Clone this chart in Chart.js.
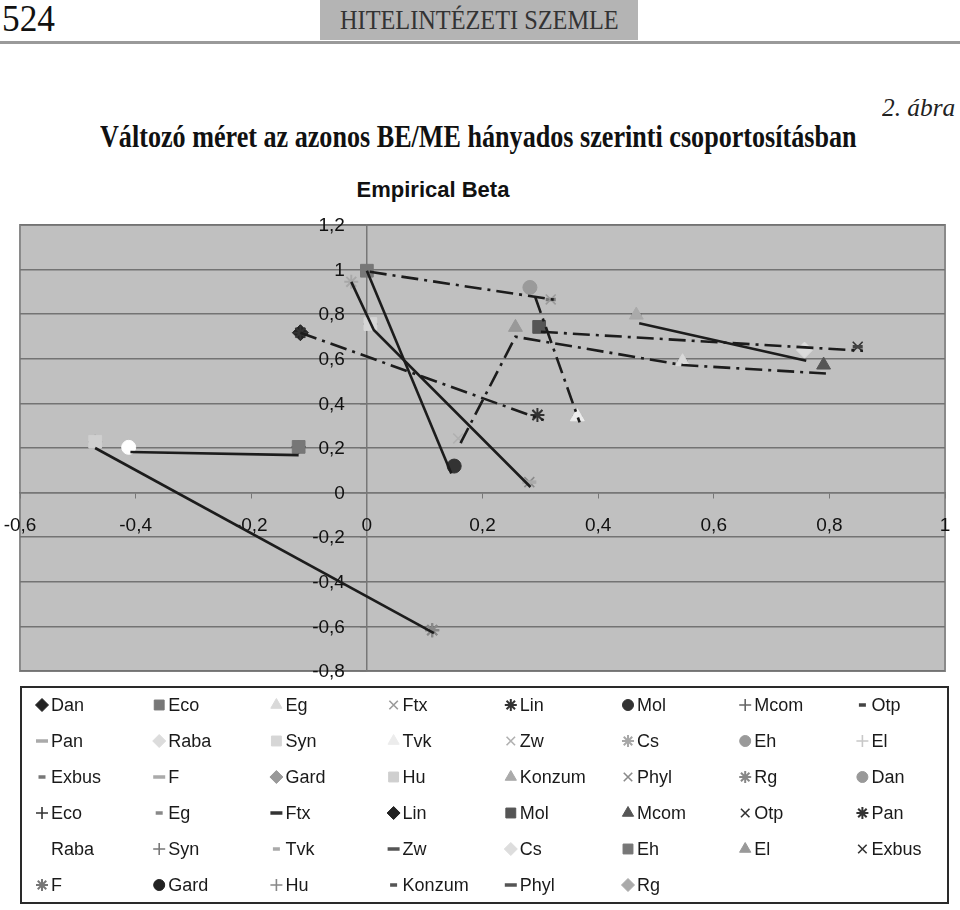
<!DOCTYPE html>
<html>
<head>
<meta charset="utf-8">
<script src="https://cdn.jsdelivr.net/npm/chart.js@4.4.0/dist/chart.umd.min.js"></script>
<style>
  body { margin: 0; width: 960px; height: 910px; position: relative; background: #fff; overflow: hidden; font-family: "Liberation Serif", "Times New Roman", serif; color: #111; }
  .abs { position: absolute; white-space: nowrap; line-height: 1; transform-origin: left top; }
  #pageNo { left: 2px; top: -1px; font-size: 38px; }
  #band { position: absolute; left: 320px; top: 0; width: 318px; height: 40px; background: #b4b4b4; }
  #journal { left: 340px; top: 7px; font-size: 27px; color: #333; }
  #rule { position: absolute; left: 0; top: 41px; width: 960px; height: 3px; background: #9a9a9a; }
  #fig { left: 882px; top: 95px; font-size: 25px; font-style: italic; color: #222; }
  #title { left: 100px; top: 121px; font-size: 31px; font-weight: bold; }
  #chartTitle { left: 433px; top: 179px; transform: translateX(-50%); font-family: "Liberation Sans", Arial, sans-serif; font-weight: bold; font-size: 22px; }
  #wrap { position: absolute; left: 0; top: 160px; width: 960px; height: 750px; }
</style>
</head>
<body>
<div id="band"></div>
<div id="rule"></div>
<span class="abs" id="pageNo" data-fit="53">524</span>
<span class="abs" id="journal" data-fit="279">HITELINTÉZETI SZEMLE</span>
<span class="abs" id="fig" data-fit="73">2. ábra</span>
<span class="abs" id="title" data-fit="757">Változó méret az azonos BE/ME hányados szerinti csoportosításban</span>
<span class="abs" id="chartTitle">Empirical Beta</span>
<div id="wrap"><canvas id="chart" width="960" height="750"></canvas></div>

<script>
// --- data ---
const companies = ['Dan', 'Eco', 'Eg', 'Ftx', 'Lin', 'Mol', 'Mcom', 'Otp', 'Pan', 'Raba', 'Syn', 'Tvk',
  'Zw', 'Cs', 'Eh', 'El', 'Exbus', 'F', 'Gard', 'Hu', 'Konzum', 'Phyl', 'Rg'];

// first group of markers
const period1X = [null, -0.118, 0.546, 0.318, -0.115, 0.151, null, 0.849, 0.281, 0.757, 0.006, 0.364,
  0.158, -0.027, 0.282, null, 0.318, null, null, -0.470, 0.466, 0.281, 0.113];
const period1Y = [null, 0.205, 0.587, 0.866, 0.717, 0.119, null, 0.654, 0.047, 0.639, 0.756, 0.340,
  0.243, 0.945, 0.920, null, 0.866, null, null, 0.228, 0.796, 0.047, -0.617];

// second group of markers
const period2X = [null, -0.118, 0.546, null, -0.115, 0.298, 0.790, 0.849, 0.295, -0.412, 0.006, 0.364,
  null, null, 0.000, 0.257, 0.295, 0.113, null, -0.470, 0.466, null, null];
const period2Y = [null, 0.205, 0.587, null, 0.717, 0.743, 0.572, 0.654, 0.348, 0.203, 0.756, 0.340,
  null, null, 0.995, 0.741, 0.348, -0.617, null, 0.228, 0.796, null, null];

// connecting lines
const solidLineX = [[-0.470, 0.116], [-0.409, -0.118], [0.000, 0.146], [-0.027, 0.012, 0.283], [0.471, 0.760]];
const solidLineY = [[0.200, -0.630], [0.182, 0.168], [0.995, 0.086], [0.945, 0.729, 0.025], [0.759, 0.591]];
const dashDotLineX = [[-0.115, 0.306], [0.005, 0.329], [0.291, 0.368], [0.162, 0.257, 0.546, 0.794], [0.301, 0.858]];
const dashDotLineY = [[0.717, 0.325], [0.990, 0.863], [0.878, 0.315], [0.222, 0.699, 0.572, 0.534], [0.721, 0.636]];

// --- marker looks (legend order) ---
const period1Marker = ['rectRot', 'rect', 'triangle', 'crossRot', 'star', 'circle', 'cross', 'dashS', 'dashL', 'rectRot', 'rect', 'triangle',
  'crossRot', 'star', 'circle', 'cross', 'dashS', 'dashL', 'rectRot', 'rect', 'triangle', 'crossRot', 'star'];
const period1Color = ['#222', '#777', '#d9d9d9', '#9a9a9a', '#333', '#333', '#666', '#444', '#aaa', '#dcdcdc', '#d6d6d6', '#ececec',
  '#b0b0b0', '#a8a8a8', '#9a9a9a', '#c8c8c8', '#777', '#aaa', '#999', '#cfcfcf', '#aaa', '#8a8a8a', '#888'];
const period2Marker = ['circle', 'cross', 'dashS', 'dashL', 'rectRot', 'rect', 'triangle', 'crossRot', 'star', 'circle', 'cross', 'dashS',
  'dashL', 'rectRot', 'rect', 'triangle', 'crossRot', 'star', 'circle', 'cross', 'dashS', 'dashL', 'rectRot'];
const period2Color = ['#999', '#333', '#888', '#333', '#222', '#555', '#555', '#333', '#333', '#fff', '#777', '#aaa',
  '#555', '#ddd', '#777', '#999', '#333', '#777', '#222', '#888', '#555', '#555', '#aaa'];

const markerLook = {
  rect:     { pointStyle: 'rect',     radius: 9, legend: 7,   width: 1 },
  rectRot:  { pointStyle: 'rectRot',  radius: 8, legend: 6.5, width: 1 },
  triangle: { pointStyle: 'triangle', radius: 8, legend: 6.5, width: 1 },
  circle:   { pointStyle: 'circle',   radius: 7, legend: 5.5, width: 1 },
  cross:    { pointStyle: 'cross',    radius: 7, legend: 6,   width: 1.6 },
  crossRot: { pointStyle: 'crossRot', radius: 7, legend: 6,   width: 1.6 },
  star:     { pointStyle: 'star',     radius: 7, legend: 6,   width: 2 },
  dashS:    { pointStyle: 'line',     radius: 5, legend: 3.5, width: 3.5 },
  dashL:    { pointStyle: 'line',     radius: 7, legend: 6,   width: 3.5 }
};

function markerSeries(xs, ys, markers, colors) {
  return companies.map((name, i) => {
    const look = markerLook[markers[i]];
    return {
      label: name,
      data: xs[i] === null ? [] : [{ x: xs[i], y: ys[i] }],
      pointStyle: look.pointStyle,
      pointRadius: look.radius,
      pointBorderWidth: look.width,
      pointBackgroundColor: colors[i],
      pointBorderColor: colors[i],
      legendRadius: look.legend,
      inLegend: true,
      showLine: false,
      order: 1
    };
  });
}

function lineSeries(xs, ys, dash) {
  return xs.map((row, i) => ({
    label: '',
    data: row.map((x, j) => ({ x: x, y: ys[i][j] })),
    showLine: true,
    borderColor: '#1c1c1c',
    borderWidth: 2.6,
    borderDash: dash,
    pointRadius: 0,
    inLegend: false,
    order: 0
  }));
}

const datasets = [
  ...markerSeries(period1X, period1Y, period1Marker, period1Color),
  ...markerSeries(period2X, period2Y, period2Marker, period2Color),
  ...lineSeries(solidLineX, solidLineY, []),
  ...lineSeries(dashDotLineX, dashDotLineY, [17, 6, 3, 6])
];

const decimalComma = v => String(Math.round(v * 10) / 10).replace('.', ',');

// grey plot area with border
const plotBackground = {
  id: 'plotBackground',
  beforeDraw(chart) {
    const { ctx, chartArea: a } = chart;
    ctx.save();
    ctx.fillStyle = '#c0c0c0';
    ctx.fillRect(a.left, a.top, a.right - a.left, a.bottom - a.top);
    ctx.strokeStyle = '#8a8a8a';
    ctx.lineWidth = 2;
    ctx.strokeRect(a.left, a.top, a.right - a.left, a.bottom - a.top);
    ctx.restore();
  }
};

// tick labels placed next to the crossing zero axes (under the series lines)
const axisLabels = {
  id: 'axisLabels',
  beforeDatasetsDraw(chart) {
    const ctx = chart.ctx, xs = chart.scales.x, ys = chart.scales.y;
    const x0 = xs.getPixelForValue(0), y0 = ys.getPixelForValue(0);
    ctx.save();
    ctx.font = '19px "Liberation Sans", Arial, sans-serif';
    ctx.fillStyle = '#111';
    ctx.textBaseline = 'middle';
    ctx.textAlign = 'right';
    ys.ticks.forEach(t => ctx.fillText(decimalComma(t.value), x0 - 22, ys.getPixelForValue(t.value) + 1));
    ctx.textAlign = 'center';
    xs.ticks.forEach(t => ctx.fillText(decimalComma(t.value), xs.getPixelForValue(t.value), y0 + 33));
    ctx.restore();
  }
};

// legend drawn as an 8-column grid in a framed box
const gridLegend = {
  id: 'gridLegend',
  afterDraw(chart) {
    const ctx = chart.ctx;
    ctx.save();
    ctx.strokeStyle = '#2a2a2a';
    ctx.lineWidth = 2;
    ctx.strokeRect(21, 527, 927, 216);
    ctx.font = '18px "Liberation Sans", Arial, sans-serif';
    ctx.textBaseline = 'middle';
    ctx.textAlign = 'left';
    chart.data.datasets.filter(d => d.inLegend).forEach((ds, i) => {
      const col = i % 8, row = Math.floor(i / 8);
      const tx = 51 + col * 117.2, ty = 545 + row * 36;
      ctx.fillStyle = ds.pointBackgroundColor;
      ctx.strokeStyle = ds.pointBorderColor;
      ctx.lineWidth = ds.pointBorderWidth;
      ctx.setLineDash([]);
      Chart.helpers.drawPoint(ctx, { pointStyle: ds.pointStyle, radius: ds.legendRadius, borderWidth: ds.pointBorderWidth, rotation: 0 }, tx - 9, ty);
      ctx.fillStyle = '#1a1a1a';
      ctx.fillText(ds.label, tx, ty + 1);
    });
    ctx.restore();
  }
};

Chart.defaults.font.family = '"Liberation Sans", Arial, sans-serif';
Chart.defaults.color = '#111';

new Chart(document.getElementById('chart'), {
  type: 'scatter',
  data: { datasets: datasets },
  options: {
    responsive: false,
    animation: false,
    layout: { padding: { left: 20, right: 15, top: 65, bottom: 239 } },
    plugins: { legend: { display: false }, tooltip: { enabled: false } },
    scales: {
      x: {
        type: 'linear',
        position: { y: 0 },
        min: -0.6, max: 1,
        ticks: { stepSize: 0.2, display: false },
        grid: { drawOnChartArea: false, drawTicks: true, tickLength: 5, color: '#777' },
        border: { display: true, color: '#777', width: 1.5 }
      },
      y: {
        type: 'linear',
        position: { x: 0 },
        min: -0.8, max: 1.2,
        ticks: { stepSize: 0.2, display: false },
        grid: { color: '#737373', lineWidth: 1.5, tickLength: 6 },
        border: { display: true, color: '#777', width: 1.5 }
      }
    }
  },
  plugins: [plotBackground, axisLabels, gridLegend]
});

// squeeze the serif page texts to the widths seen in the scan
document.querySelectorAll('[data-fit]').forEach(el => {
  const s = +el.dataset.fit / el.offsetWidth;
  el.style.transform = 'scaleX(' + s + ')';
});
</script>
</body>
</html>
